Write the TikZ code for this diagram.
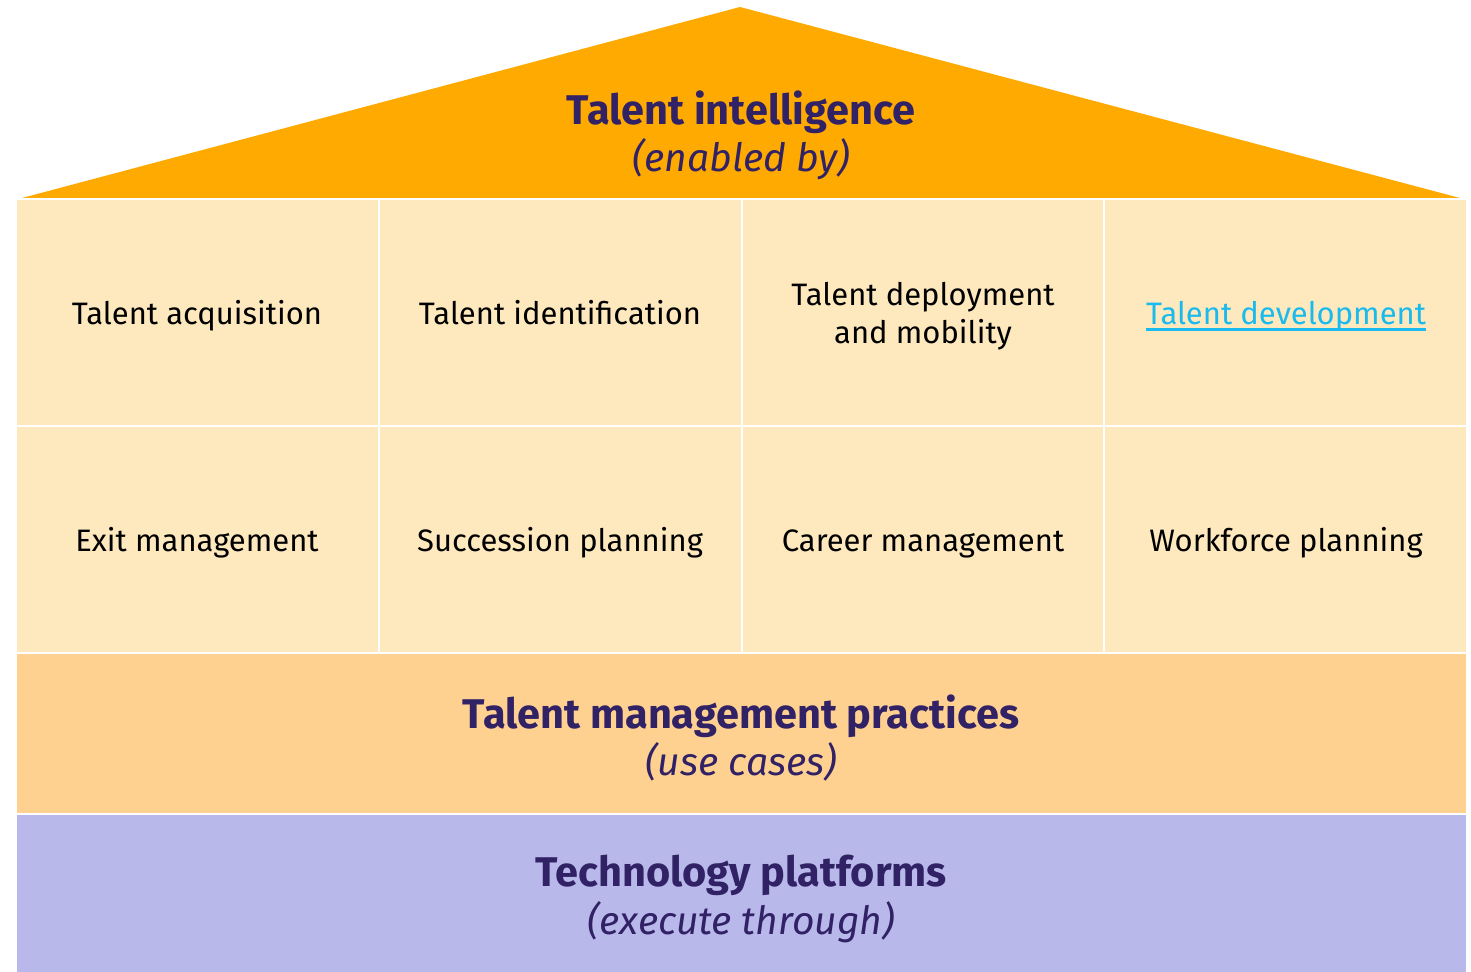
\documentclass[tikz,border=0pt]{standalone}
\usepackage{fontspec}
\setmainfont{Fira Sans}
\definecolor{roof}{RGB}{255,170,0}
\definecolor{cellbg}{RGB}{254,232,189}
\definecolor{practbg}{RGB}{254,209,145}
\definecolor{techbg}{RGB}{184,184,234}
\definecolor{ink}{RGB}{49,33,101}
\definecolor{linkblue}{RGB}{25,186,238}
\newcommand{\bantitle}[1]{{\fontsize{41.5}{48}\selectfont\bfseries #1}}
\newcommand{\bansub}[1]{{\fontsize{39}{48}\selectfont\itshape #1}}
\tikzset{house/.style={x=1pt,y=-1pt},
  cell/.style={fill=cellbg,draw=white,line width=2pt},
  celltxt/.style={align=center,font=\fontsize{31}{38}\selectfont},
  oneline/.style={celltxt,text height=0.75em,text depth=0.25em},
  banner/.style={align=center,text=ink}}

\begin{document}
\begin{tikzpicture}[house]
    \def\w{362.75}
    \useasboundingbox (0,0) rectangle (1471,971);
    % roof
    \fill[roof] (22,198) -- (740,7) -- (1460,198) -- cycle;
    % two rows of use cases
    \foreach \i in {0,...,3} {
      \path[cell] ({16+\i*\w},199) rectangle ({16+(\i+1)*\w},426);
      \path[cell] ({16+\i*\w},426) rectangle ({16+(\i+1)*\w},653);
    }
    \path[fill=practbg,draw=white,line width=2pt] (16,653) rectangle (1467,814);
    \path[fill=techbg,draw=white,line width=2pt] (16,814) rectangle (1467,973);
    \node[banner] (roof) at (741,135) {\bantitle{Talent intelligence}\\[4pt]\bansub{(enabled by)}};
    \node[oneline] (acq) at (197,322) {Talent acquisition};
    \node[oneline] (ident) at (560,322) {Talent identification};
    \node[celltxt] (deploy) at (923,316) {Talent deployment\\and mobility};
    \node[oneline,text=linkblue,inner sep=0pt] (devel) at (1286,322) {Talent development};
    \draw[linkblue,line width=2.5pt] ([yshift=-5pt]devel.base west) -- ([yshift=-5pt]devel.base east);
    \node[oneline] (exit) at (197,549) {Exit management};
    \node[oneline] (succ) at (560,549) {Succession planning};
    \node[oneline] (career) at (923,549) {Career management};
    \node[oneline] (wforce) at (1286,549) {Workforce planning};
    \node[banner] (pract) at (741,738) {\bantitle{Talent management practices}\\[4pt]\bansub{(use cases)}};
    \node[banner] (tech) at (741,899) {\bantitle{Technology platforms}\\[4pt]\bansub{(execute through)}};
  \end{tikzpicture}
\end{document}
